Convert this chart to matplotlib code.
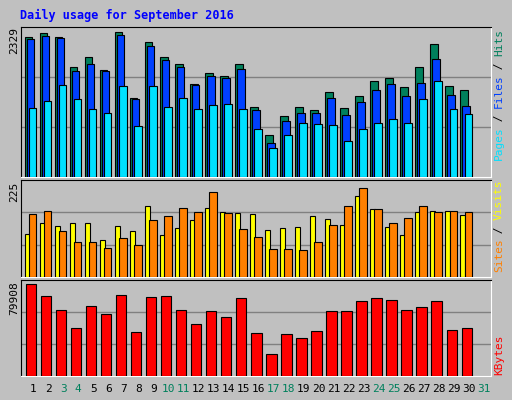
import matplotlib
matplotlib.use('Agg')
import matplotlib.pyplot as plt

days = list(range(1, 31))
hits = [2215, 2277, 2215, 1749, 1905, 1698, 2293, 1253, 2138, 1905, 1796, 1470, 1641, 1594, 1796,
        1113, 663, 973, 1113, 1066, 1346, 1097, 1284, 1517, 1563, 1423, 1749, 2107, 1439, 1377]
files = [2184, 2231, 2200, 1687, 1796, 1672, 2246, 1237, 2076, 1858, 1749, 1454, 1594, 1563, 1718,
         1066, 538, 895, 1020, 1020, 1253, 989, 1190, 1377, 1470, 1284, 1486, 1874, 1299, 1128]
pages = [1097, 1206, 1454, 1237, 1082, 1020, 1439, 802, 1439, 1113, 1253, 1082, 1144, 1159, 1082,
         756, 461, 663, 849, 833, 818, 569, 756, 849, 926, 849, 1237, 1517, 1082, 1004]
visits = [105, 131, 124, 131, 131, 89, 124, 112, 171, 103, 119, 138, 168, 157, 154,
          152, 115, 119, 122, 147, 140, 126, 197, 166, 122, 103, 157, 159, 161, 150]
sites = [152, 159, 112, 84, 84, 70, 94, 77, 138, 147, 168, 157, 206, 154, 117,
         96, 68, 68, 66, 84, 126, 171, 215, 166, 131, 143, 171, 157, 161, 157]
kbytes = [79908, 69400, 57200, 41400, 60700, 53700, 70300, 37900, 68500, 69400, 57200, 44900, 56300, 51000, 67700,
          37000, 18700, 36200, 32700, 38800, 56300, 56300, 65000, 67700, 65900, 57200, 59800, 65000, 39700, 41400]
weekend = [3, 4, 10, 11, 17, 18, 24, 25, 31]

W, H = 512, 400
fig = plt.figure(figsize=(W / 100, H / 100), dpi=100, facecolor='#c0c0c0')
mono = 'DejaVu Sans Mono'


def panel(top, bottom):
    ax = fig.add_axes([20.5 / W, 1 - bottom / H, 470 / W, (bottom - top) / H])
    ax.set_facecolor('#c0c0c0')
    ax.set_xlim(-0.3, 31.0)
    ax.set_xticks([])
    ax.set_yticks([])
    for s in ax.spines.values():
        s.set_color('black')
    ax.spines['right'].set_color('white')
    ax.spines['bottom'].set_color('white')
    return ax


x0 = [d - 1 for d in days]
kw = dict(align='edge', edgecolor='black', linewidth=0.8, zorder=3)

ax1 = panel(26.7, 177)
top1 = 2329 * 450 / 440
ax1.set_ylim(0, top1)
for g in (top1 / 3, 2 * top1 / 3):
    ax1.axhline(g, color='#808080', lw=1, zorder=1)
ax1.bar(x0, hits, width=0.49, color='#00805c', **kw)
ax1.bar([x + 0.13 for x in x0], files, width=0.49, color='#0040ff', **kw)
ax1.bar([x + 0.27 for x in x0], pages, width=0.49, color='#00e0ff', **kw)

ax2 = panel(180, 277)
top2 = 225 * 288.5 / 276
ax2.set_ylim(0, top2)
for g in (top2 / 3, 2 * top2 / 3):
    ax2.axhline(g, color='#808080', lw=1, zorder=1)
ax2.bar(x0, visits, width=0.33, color='#ffff00', **kw)
ax2.bar([x + 0.27 for x in x0], sites, width=0.49, color='#ff8000', **kw)

ax3 = panel(280, 376)
top3 = 79908 * 286 / 274
ax3.set_ylim(0, top3)
for g in (top3 / 3, 2 * top3 / 3):
    ax3.axhline(g, color='#808080', lw=1, zorder=1)
ax3.bar([x + 0.07 for x in x0], kbytes, width=0.68, color='#ff0000', **kw)

# day labels
for d in range(1, 32):
    xp = 20.5 + (d - 1 + 0.3 + 0.55) * 470 / 31.3
    fig.text(xp / W, 1 - 389 / H, str(d), ha='center', va='center', family=mono, fontsize=8,
             color='#00805c' if d in weekend else 'black')

fig.text(20 / W, 1 - 15 / H, 'Daily usage for September 2016', family=mono, fontsize=8.5,
         weight='bold', color='#0000ff', va='center')

for y, lab in ((40, '2329'), (192, '225'), (298, '79908')):
    fig.text(14 / W, 1 - y / H, lab, rotation=90, ha='center', va='center', family=mono, fontsize=8)


def side(parts, y_bottom):
    y = y_bottom
    for txt, col in parts:
        t = fig.text(499 / W, 1 - y / H, txt, rotation=90, ha='center', va='bottom',
                     family=mono, fontsize=8, color=col)
        y -= len(txt) * 6.5


side([('Pages', '#00e0ff'), (' / ', 'black'), ('Files', '#0040ff'), (' / ', 'black'), ('Hits', '#00805c')], 160)
side([('Sites', '#ff8000'), (' / ', 'black'), ('Visits', '#ffff00')], 272)
side([('KBytes', '#ff0000')], 375)

fig.savefig('out.png', dpi=100, facecolor='#c0c0c0')
